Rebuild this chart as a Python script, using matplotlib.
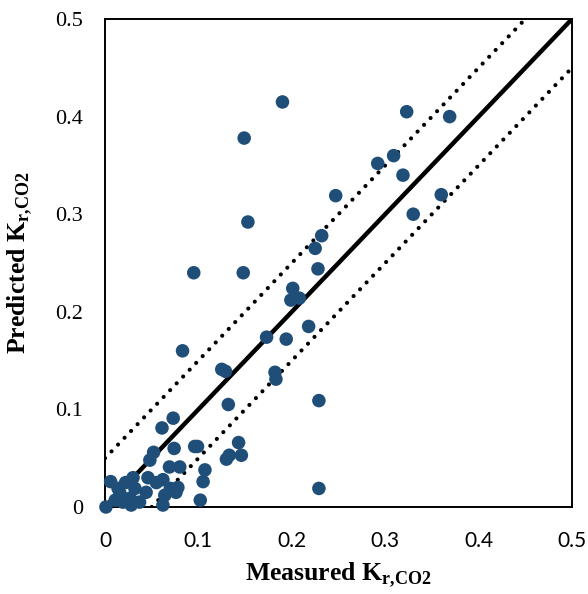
import matplotlib

matplotlib.use("Agg")
import matplotlib.pyplot as plt

# measured vs predicted relative permeability of CO2
measured = [
    0.190, 0.149, 0.153, 0.323, 0.369, 0.292, 0.309, 0.319, 0.247, 0.360,
    0.330, 0.232, 0.225, 0.228, 0.095, 0.148, 0.201, 0.199, 0.208, 0.218,
    0.173, 0.194, 0.083, 0.125, 0.129, 0.182, 0.183, 0.132, 0.229, 0.143,
    0.133, 0.146, 0.130, 0.107, 0.105, 0.102, 0.229, 0.073, 0.061, 0.074,
    0.096, 0.099, 0.052, 0.048, 0.069, 0.080, 0.006, 0.001, 0.022, 0.016,
    0.011, 0.027, 0.032, 0.037, 0.046, 0.044, 0.055, 0.062, 0.070, 0.076,
    0.078, 0.062, 0.028, 0.019, 0.014, 0.064, 0.030,
]
predicted = [
    0.415, 0.378, 0.292, 0.405, 0.400, 0.352, 0.360, 0.340, 0.319, 0.320,
    0.300, 0.278, 0.265, 0.244, 0.240, 0.240, 0.224, 0.212, 0.214, 0.185,
    0.174, 0.172, 0.160, 0.141, 0.139, 0.138, 0.131, 0.105, 0.109, 0.066,
    0.053, 0.053, 0.049, 0.038, 0.026, 0.007, 0.019, 0.091, 0.081, 0.060,
    0.062, 0.062, 0.056, 0.048, 0.041, 0.041, 0.026, 0.000, 0.025, 0.014,
    0.007, 0.009, 0.019, 0.005, 0.030, 0.015, 0.025, 0.028, 0.019, 0.015,
    0.020, 0.002, 0.002, 0.005, 0.019, 0.012, 0.030,
]

band = 0.05
lim = 0.5
ticks = [0, 0.1, 0.2, 0.3, 0.4, 0.5]
tick_labels = ["0", "0.1", "0.2", "0.3", "0.4", "0.5"]

plt.rcParams["mathtext.fontset"] = "custom"
plt.rcParams["mathtext.rm"] = "Liberation Serif"
plt.rcParams["mathtext.bf"] = "Liberation Serif:bold"

fig = plt.figure(figsize=(5.88, 5.94), dpi=100)
ax = fig.add_axes([0.1786, 0.1465, 0.7942, 0.8215])

ax.plot([0, lim], [0, lim], color="black", lw=3.2, solid_capstyle="butt", zorder=2)
ax.plot([0, lim - band], [band, lim], color="black", lw=3.0,
        linestyle=(0, (0.01, 2.25)), dash_capstyle="round", zorder=2)
ax.plot([band, lim], [0, lim - band], color="black", lw=3.0,
        linestyle=(0, (0.01, 2.25)), dash_capstyle="round", zorder=2)

ax.scatter(measured, predicted, s=95, color="#1F4E79", edgecolors="none",
           zorder=3, clip_on=False)

ax.set_xlim(0, lim)
ax.set_ylim(0, lim)
ax.set_xticks(ticks)
ax.set_yticks(ticks)
ax.set_xticklabels(tick_labels, family="Lato", fontsize=15)
ax.set_yticklabels(tick_labels, family="Liberation Serif", fontsize=16)
ax.tick_params(axis="x", length=0, pad=17)
ax.tick_params(axis="y", length=0, pad=16)

for sp in ax.spines.values():
    sp.set_linewidth(1.4)

ax.set_xlabel(r"Measured $\mathbf{K}_{\mathbf{r{,}CO2}}$", family="Liberation Serif",
              fontweight="bold", fontsize=18.5, labelpad=7)
ax.set_ylabel(r"Predicted $\mathbf{K}_{\mathbf{r{,}CO2}}$", family="Liberation Serif",
              fontweight="bold", fontsize=18.5, labelpad=14)

fig.savefig("out.png", dpi=100)
